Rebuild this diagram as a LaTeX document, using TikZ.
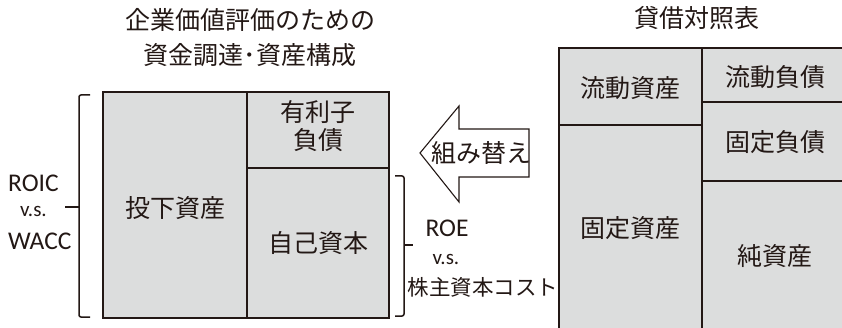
\documentclass[tikz,border=0pt]{standalone}
\usepackage{fontspec}
\setmainfont{Carlito}
\newfontfamily\cjk{Noto Sans CJK JP}
\definecolor{cellfill}{HTML}{DCDDDD}
\definecolor{ink}{HTML}{231815}
\tikzset{
  cell/.style={draw=ink, fill=cellfill, line width=1.5pt},
  jtxt/.style={text=ink, font=\cjk\fontsize{25}{30}\selectfont, align=center, inner sep=0pt},
  ltxt/.style={text=ink, font=\fontsize{25.5}{30}\selectfont, align=center, inner sep=0pt},
  stxt/.style={text=ink, font=\fontsize{21}{25}\selectfont, inner sep=0pt},
  brace/.style={draw=ink, line width=1.5pt, rounded corners=2pt},
  arrowshape/.style={draw=ink, fill=white, line width=1.1pt, line join=miter}
}
\begin{document}
\begin{tikzpicture}[x=1pt,y=-1pt]
\begin{scope}
\clip (0,0) rectangle (842,328);
\fill[white] (0,0) rectangle (842,328);
% titles
\node[jtxt] (t1) at (250,20) {企業価値評価のための};
\node[jtxt] (t2) at (250,55) {資金調達･資産構成};
\node[jtxt] (t3) at (697,18) {貸借対照表};
% left box
\draw[cell] (103,92) rectangle (247,318);
\draw[cell] (247,92) rectangle (389,168);
\draw[cell] (247,168) rectangle (389,318);
\node[jtxt] (a1) at (175,208) {投下資産};
\node[jtxt, font=\cjk\fontsize{25}{28}\selectfont] (a2) at (318,126) {有利子\\負債};
\node[jtxt] (a3) at (318,243) {自己資本};
% right box
\draw[cell] (559,48) rectangle (702,125);
\draw[cell] (559,125) rectangle (702,340);
\draw[cell] (702,48) rectangle (850,102);
\draw[cell] (702,102) rectangle (850,181);
\draw[cell] (702,181) rectangle (850,340);
\node[jtxt] (b1) at (630,88) {流動資産};
\node[jtxt] (b2) at (630,228) {固定資産};
\node[jtxt] (b3) at (775,77) {流動負債};
\node[jtxt] (b4) at (775,142) {固定負債};
\node[jtxt] (b5) at (775,256) {純資産};
% arrow
\draw[arrowshape] (420,153) -- (459,106) -- (459,129) -- (529,129) -- (529,177) -- (459,177) -- (459,202) -- cycle;
\node[jtxt] (ar) at (481,153) {組み替え};
% left brace
\coordinate (lb1) at (90,95);
\coordinate (lb2) at (90,317);
\coordinate (lbm) at (65,207);
\draw[brace] (lb1) -- (79,95) -- (79,317) -- (lb2);
\draw[brace] (79,207) -- (lbm);
\node[ltxt, anchor=west] (roic) at (8,183) {ROIC};
\node[stxt, anchor=west] (vs1) at (20,211) {v.s.};
\node[ltxt, anchor=west] (wacc) at (8,241) {WACC};
% right brace
\coordinate (rb1) at (395,176);
\coordinate (rb2) at (395,316);
\coordinate (rbm) at (413,245);
\draw[brace] (rb1) -- (404,176) -- (404,316) -- (rb2);
\draw[brace] (404,245) -- (rbm);
\node[ltxt] (roe) at (447,228) {ROE};
\node[stxt] (vs2) at (446,259) {v.s.};
\node[jtxt, font=\cjk\fontsize{21.5}{25}\selectfont] (cost) at (483,287) {株主資本コスト};
\end{scope}
\pgfresetboundingbox
\useasboundingbox (0,0) rectangle (842,328);
\end{tikzpicture}
\end{document}
